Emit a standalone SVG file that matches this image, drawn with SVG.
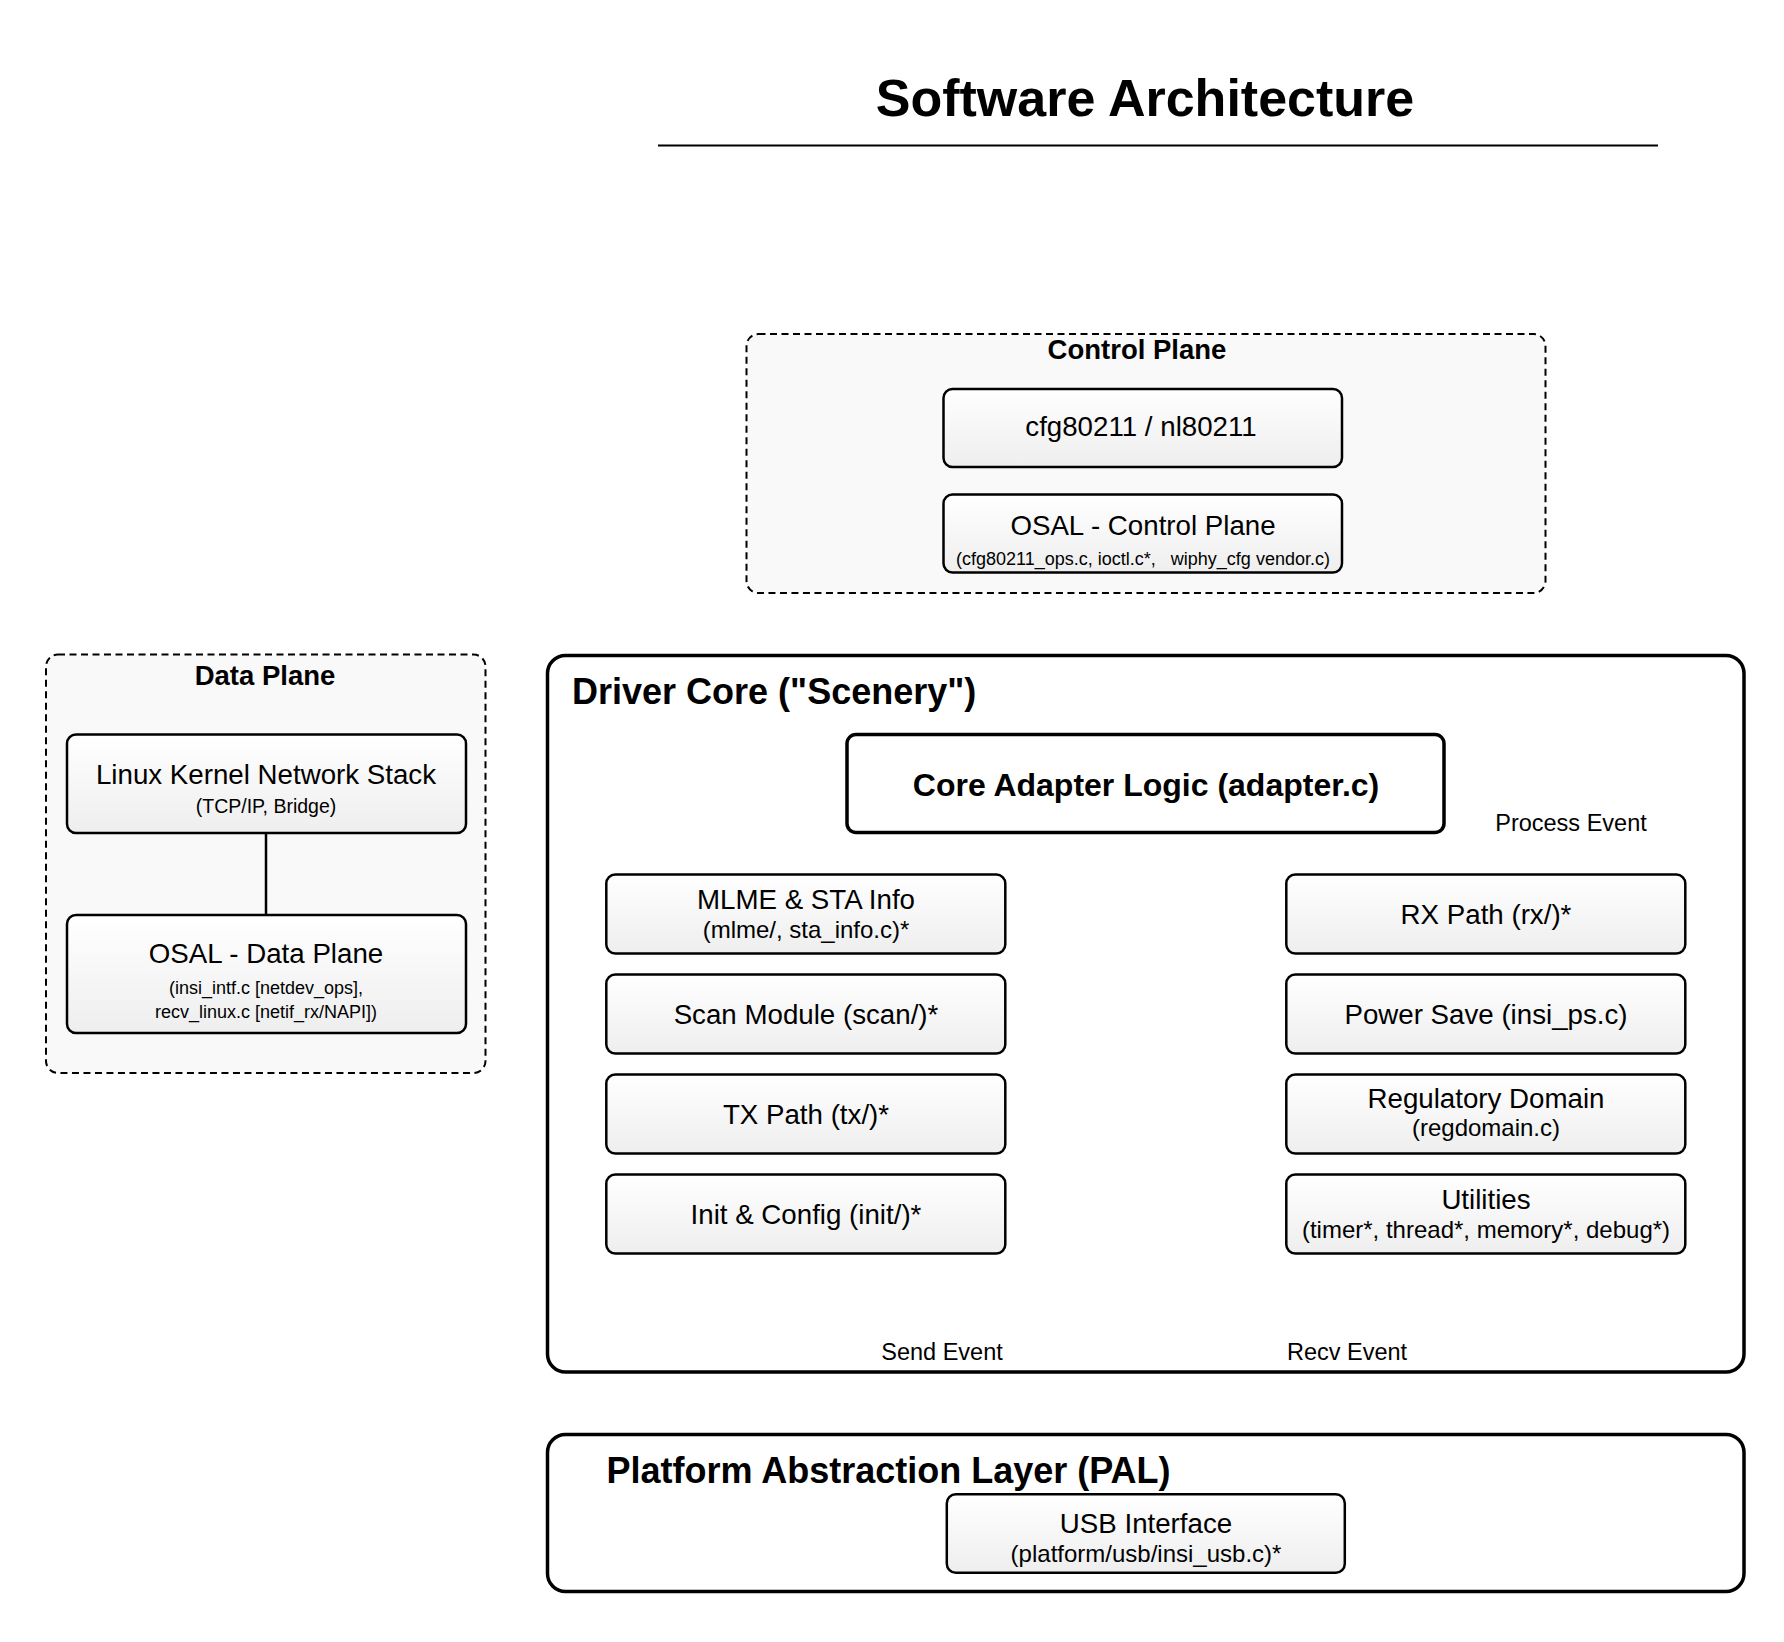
<svg xmlns="http://www.w3.org/2000/svg" width="1784" height="1642" viewBox="0 0 1784 1642">
  <defs>
    <linearGradient id="boxGrad" x1="0" y1="0" x2="0" y2="1">
      <stop offset="0" stop-color="#ffffff"/>
      <stop offset="1" stop-color="#eeeeee"/>
    </linearGradient>
    <style>
      text { font-family: "Liberation Sans", Arial, Helvetica, sans-serif; fill: #000; }
      .title { font-size: 52px; font-weight: bold; text-anchor: middle; }
      .group-dashed { fill: #f9f9f9; stroke: #000; stroke-width: 2; stroke-dasharray: 7 4.5; }
      .group-solid { fill: #ffffff; stroke: #000; stroke-width: 3.5; }
      .box { fill: url(#boxGrad); stroke: #000; stroke-width: 2.5; }
      .box-strong { fill: #ffffff; stroke: #000; stroke-width: 3.5; }
      .gtitle { font-size: 27.5px; font-weight: bold; text-anchor: middle; }
      .ltitle { font-size: 36px; font-weight: bold; }
      .btitle { font-size: 27.7px; text-anchor: middle; }
      .bsub { font-size: 24px; text-anchor: middle; }
      .ssub { font-size: 18px; text-anchor: middle; }
      .core { font-size: 32px; font-weight: bold; text-anchor: middle; }
      .elabel { font-size: 23.5px; text-anchor: middle; }
      .conn { stroke: #000; stroke-width: 2.5; fill: none; }
    </style>
  </defs>

  <rect width="1784" height="1642" fill="#ffffff"/>

  <g id="title">
    <text class="title" x="1145" y="116">Software Architecture</text>
    <line x1="658" y1="145.5" x2="1658" y2="145.5" stroke="#000" stroke-width="2"/>
  </g>

  <!-- Control Plane -->
  <g id="control-plane">
    <rect class="group-dashed" x="746.5" y="334" width="799" height="259" rx="12"/>
    <text class="gtitle" x="1137" y="359">Control Plane</text>
  </g>
  <g id="cfg80211">
    <rect class="box" x="943.5" y="389" width="398.5" height="78" rx="9"/>
    <text class="btitle" x="1141" y="436">cfg80211 / nl80211</text>
  </g>
  <g id="osal-control">
    <rect class="box" x="943.5" y="494.5" width="398.5" height="78" rx="9"/>
    <text class="btitle" x="1143" y="535">OSAL - Control Plane</text>
    <text class="ssub" x="1143" y="565" style="white-space:pre">(cfg80211_ops.c, ioctl.c*,   wiphy_cfg vendor.c)</text>
  </g>

  <!-- Data Plane -->
  <g id="data-plane">
    <rect class="group-dashed" x="46" y="654.5" width="439.5" height="418.5" rx="12"/>
    <text class="gtitle" x="265" y="685">Data Plane</text>
  </g>
  <g id="linux-stack">
    <rect class="box" x="67" y="734.5" width="399" height="98.5" rx="9"/>
    <text class="btitle" x="266" y="784">Linux Kernel Network Stack</text>
    <text class="ssub" x="266" y="813" style="font-size:19.5px">(TCP/IP, Bridge)</text>
  </g>
  <g id="osal-data">
    <rect class="box" x="67" y="915" width="399" height="118" rx="9"/>
    <text class="btitle" x="266" y="963">OSAL - Data Plane</text>
    <text class="ssub" x="266" y="994">(insi_intf.c [netdev_ops],</text>
    <text class="ssub" x="266" y="1018">recv_linux.c [netif_rx/NAPI])</text>
  </g>

  <!-- Driver Core -->
  <g id="driver-core">
    <rect class="group-solid" x="547.5" y="655.5" width="1196.5" height="716.5" rx="18"/>
    <text class="ltitle" x="572" y="704">Driver Core ("Scenery")</text>
  </g>
  <g id="core-adapter">
    <rect class="box-strong" x="847" y="734.5" width="597" height="98" rx="9"/>
    <text class="core" x="1146" y="796">Core Adapter Logic (adapter.c)</text>
  </g>

  <g id="mlme">
    <rect class="box" x="606.3" y="874.5" width="399" height="79" rx="9"/>
    <text class="btitle" x="806" y="909">MLME &amp; STA Info</text>
    <text class="bsub" x="806" y="938">(mlme/, sta_info.c)*</text>
  </g>
  <g id="scan">
    <rect class="box" x="606.3" y="974.5" width="399" height="79" rx="9"/>
    <text class="btitle" x="806" y="1023.5">Scan Module (scan/)*</text>
  </g>
  <g id="tx-path">
    <rect class="box" x="606.3" y="1074.5" width="399" height="79" rx="9"/>
    <text class="btitle" x="806" y="1123.5">TX Path (tx/)*</text>
  </g>
  <g id="init-config">
    <rect class="box" x="606.3" y="1174.5" width="399" height="79" rx="9"/>
    <text class="btitle" x="806" y="1223.5">Init &amp; Config (init/)*</text>
  </g>

  <g id="rx-path">
    <rect class="box" x="1286.3" y="874.5" width="399" height="79" rx="9"/>
    <text class="btitle" x="1486" y="923.5">RX Path (rx/)*</text>
  </g>
  <g id="power-save">
    <rect class="box" x="1286.3" y="974.5" width="399" height="79" rx="9"/>
    <text class="btitle" x="1486" y="1023.5">Power Save (insi_ps.c)</text>
  </g>
  <g id="regdomain">
    <rect class="box" x="1286.3" y="1074.5" width="399" height="79" rx="9"/>
    <text class="btitle" x="1486" y="1108">Regulatory Domain</text>
    <text class="bsub" x="1486" y="1136">(regdomain.c)</text>
  </g>
  <g id="utilities">
    <rect class="box" x="1286.3" y="1174.5" width="399" height="79" rx="9"/>
    <text class="btitle" x="1486" y="1208.5">Utilities</text>
    <text class="bsub" x="1486" y="1238">(timer*, thread*, memory*, debug*)</text>
  </g>

  <!-- PAL -->
  <g id="pal">
    <rect class="group-solid" x="547.5" y="1434.5" width="1196.5" height="157" rx="18"/>
    <text class="ltitle" x="606.5" y="1483">Platform Abstraction Layer (PAL)</text>
  </g>
  <g id="usb">
    <rect class="box" x="946.8" y="1494.3" width="398" height="78.5" rx="9"/>
    <text class="btitle" x="1146" y="1533">USB Interface</text>
    <text class="bsub" x="1146" y="1562">(platform/usb/insi_usb.c)*</text>
  </g>

  <!-- Connectors and their labels -->
  <g id="connectors">
    <line class="conn" x1="266" y1="833" x2="266" y2="915"/>
    <text class="elabel" x="1571" y="831">Process Event</text>
    <text class="elabel" x="942" y="1360">Send Event</text>
    <text class="elabel" x="1347" y="1360">Recv Event</text>
  </g>
</svg>
